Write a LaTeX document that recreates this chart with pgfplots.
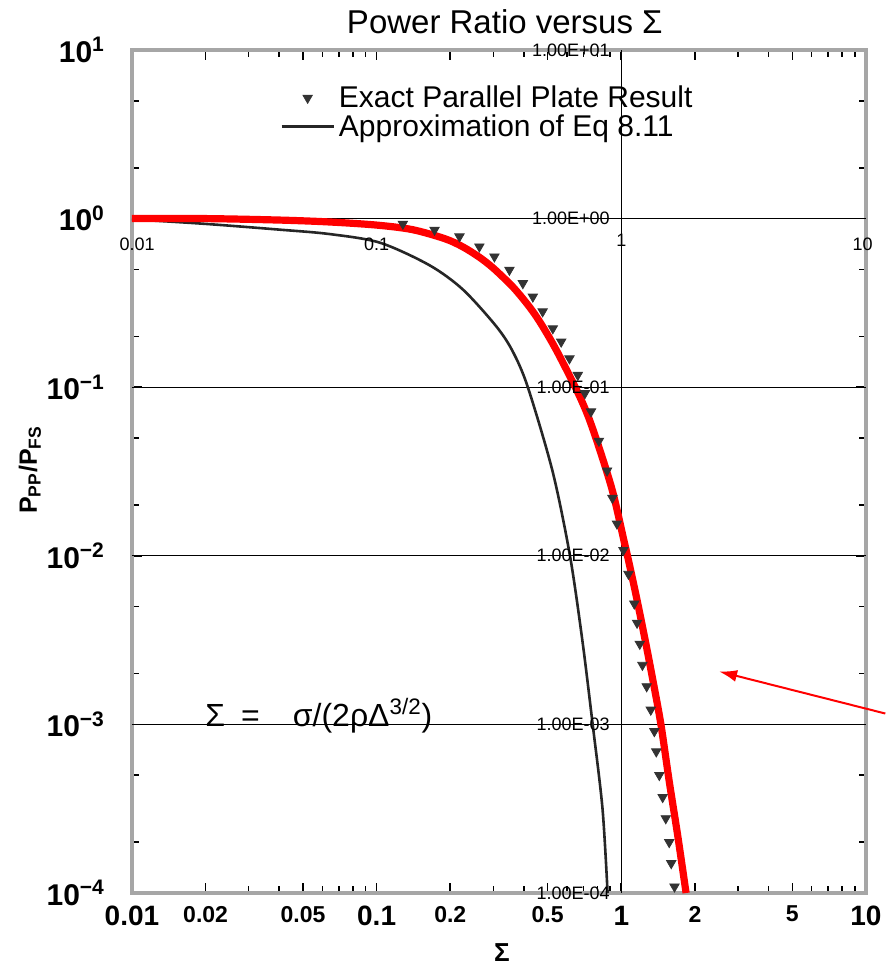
\documentclass[border=0pt]{standalone}
\usepackage{fontspec}
\setmainfont{Liberation Sans}
\usepackage{pgfplots}
\usepackage{pgfplotstable}
\pgfplotsset{compat=1.18}
\usetikzlibrary{arrows.meta}
\pgfplotstableread{
x y
0.01 1.0
0.02 1.0
0.04 0.98
0.064 0.955
0.1 0.915
0.14 0.86
0.19 0.76
0.225 0.68
0.263 0.59
0.3 0.508
0.36 0.394
0.41 0.315
0.45 0.262
0.493 0.212
0.55 0.16
0.653 0.098
0.73 0.068
0.813 0.0434
0.922 0.024
1.028 0.0121
1.06 0.010
1.15 0.0058
1.25 0.0032
1.35 0.00179
1.452 0.001
1.57 0.00046
1.70 0.00022
1.84 0.0001
}\redtab
\pgfplotstableread{
x y
0.128 0.93
0.1725 0.857
0.218 0.782
0.263 0.682
0.303 0.595
0.349 0.496
0.396 0.413
0.435 0.344
0.477 0.281
0.525 0.223
0.568 0.186
0.614 0.148
0.664 0.118
0.71 0.092
0.752 0.0717
0.81 0.048
0.875 0.032
0.92 0.022
0.96 0.0155
1.02 0.0108
1.07 0.0078
1.13 0.0052
1.16 0.0040
1.19 0.0030
1.22 0.00225
1.27 0.00168
1.32 0.00122
1.365 0.00091
1.39 0.00069
1.43 0.0005
1.476 0.00037
1.52 0.000277
1.57 0.0002
1.60 0.00015
1.65 0.000109
}\exacttab
\pgfplotstableread{
x y
0.01 0.99
0.02 0.93
0.04 0.86
0.064 0.81
0.103 0.72
0.164 0.53
0.225 0.38
0.308 0.23
0.36 0.163
0.415 0.1
0.524 0.0316
0.617 0.01
0.693 0.00316
0.764 0.001
0.838 0.000316
0.879 0.0001
}\approxtab
\begin{document}
\begin{tikzpicture}
\begin{axis}[
  scale only axis, width=367pt, height=421.5pt,
  xmode=log, ymode=log,
  xmin=0.01, xmax=10, ymin=1e-4, ymax=10,
  axis line style={gray!70, line width=2pt},
  xtick={0.01,0.02,0.05,0.1,0.2,0.5,1,2,5,10},
  xticklabels={{\fontsize{14}{16}\selectfont\bfseries 0.01},{\bfseries 0.02},{\bfseries 0.05},{\fontsize{14}{16}\selectfont\bfseries 0.1},{\bfseries 0.2},{\bfseries 0.5},{\fontsize{14}{16}\selectfont\bfseries 1},{\bfseries 2},{\bfseries 5},{\fontsize{14}{16}\selectfont\bfseries 10}},
  xticklabel style={font=\fontsize{11.5}{13}\selectfont, anchor=north, yshift=-3pt},
  minor xtick={0.03,0.04,0.06,0.07,0.08,0.09,0.3,0.4,0.6,0.7,0.8,0.9,3,4,6,7,8,9},
  ytick={1e-4,1e-3,1e-2,1e-1,1,10},
  yticklabels={{10\textsuperscript{−4}},{10\textsuperscript{−3}},{10\textsuperscript{−2}},{10\textsuperscript{−1}},{10\textsuperscript{0}},{10\textsuperscript{1}}},
  yticklabel style={font=\fontsize{15}{17}\selectfont\bfseries, xshift=-10pt},
  minor ytick={2e-4,5e-4,2e-3,5e-3,2e-2,5e-2,0.2,0.5,2,5},
  tick style={black, line width=0.8pt},
  major tick length=5pt, minor tick length=3.5pt,
  extra x ticks={1}, extra x tick labels={},
  extra x tick style={grid=major, major tick length=0pt},
  extra y ticks={1e-3,1e-2,1e-1,1}, extra y tick labels={},
  extra y tick style={grid=major, major tick length=0pt},
  major grid style={black, line width=0.6pt},
  title={Power Ratio versus Σ},
  title style={font=\fontsize{16.5}{18}\selectfont, at={(rel axis cs:0.508,1.019)}, anchor=center},
  xlabel={Σ},
  xlabel style={font=\fontsize{13}{15}\selectfont\bfseries, at={(rel axis cs:0.504,-0.0705)}, anchor=center},
  ylabel={P\textsubscript{PP}/P\textsubscript{FS}},
  ylabel style={font=\fontsize{12.5}{14}\selectfont\bfseries, at={(rel axis cs:-0.139,0.502)}, anchor=center},
  clip=false,
  legend style={at={(0.2016,0.963)}, anchor=north west, draw=none, fill=none,
    inner sep=0pt, font=\fontsize{15}{16}\selectfont, row sep=-2pt},
  legend cell align=left,
]
\addplot[only marks, mark=triangle*, mark size=2.7pt, black!80,
  mark options={rotate=180, fill=black!80},
  legend image code/.code={\draw[black!80, mark=triangle*, mark size=2.7pt, mark options={rotate=180, fill=black!80}] plot[only marks] coordinates {(13pt,0pt)};}] table[x=x,y=y] {\exacttab};
\addlegendentry{Exact Parallel Plate Result}
\addplot[black!85, line width=1.3pt, smooth, tension=0.5,
  legend image code/.code={\draw[black!85, line width=1.3pt] (0pt,0pt) -- (26pt,0pt);}] table[x=x,y=y] {\approxtab};
\addlegendentry{Approximation of Eq 8.11}
\addplot[red, line width=3.6pt, smooth, tension=0.5, forget plot] table[x=x,y=y] {\redtab};
% inner overlay labels
\node[anchor=east, inner sep=0pt, font=\fontsize{9}{10}\selectfont] at (axis cs:0.9,10) {1.00E+01};
\node[anchor=east, inner sep=0pt, font=\fontsize{9}{10}\selectfont] at (axis cs:0.9,1) {1.00E+00};
\node[anchor=east, inner sep=0pt, font=\fontsize{9}{10}\selectfont] at (axis cs:0.9,0.1) {1.00E-01};
\node[anchor=east, inner sep=0pt, font=\fontsize{9}{10}\selectfont] at (axis cs:0.9,0.01) {1.00E-02};
\node[anchor=east, inner sep=0pt, font=\fontsize{9}{10}\selectfont] at (axis cs:0.9,0.001) {1.00E-03};
\node[anchor=east, inner sep=0pt, font=\fontsize{9}{10}\selectfont] at (axis cs:0.9,0.0001) {1.00E-04};
\node[font=\fontsize{9}{10}\selectfont] at (axis cs:0.0105,0.70) {0.01};
\node[font=\fontsize{9}{10}\selectfont] at (axis cs:0.1,0.70) {0.1};
\node[font=\fontsize{9}{10}\selectfont] at (axis cs:1,0.74) {1};
\node[font=\fontsize{9}{10}\selectfont] at (axis cs:9.7,0.70) {10};
\node[anchor=base west, inner sep=0pt, font=\fontsize{16}{18}\selectfont] at (axis cs:0.0199,0.00097) {Σ\hspace{8pt}=\hspace{16.5pt}σ/(2ρΔ\textsuperscript{3/2})};
\draw[red, line width=1pt, -{Latex[length=9pt,width=6pt]}] (axis cs:12,0.00116) -- (axis cs:2.51,0.00206);
\coordinate (bbl) at (rel axis cs:-0.1798,-0.0878);
\coordinate (btr) at (rel axis cs:1.0272,1.0593);
\end{axis}
\pgfresetboundingbox
\useasboundingbox (bbl) rectangle (btr);
\end{tikzpicture}
\end{document}
